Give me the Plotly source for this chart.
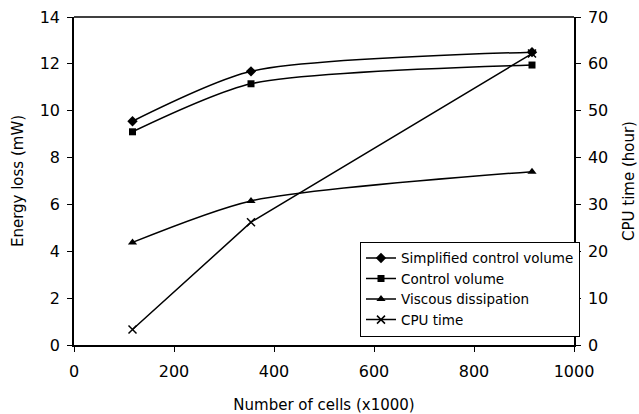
import plotly.graph_objects as go

cells = [117, 354, 916]
simplified_cv = [9.55, 11.68, 12.5]
control_volume = [9.1, 11.15, 11.95]
viscous = [4.38, 6.15, 7.4]
cpu_time = [3.3, 26.2, 62.2]

FAM = "DejaVu Sans, Arial, sans-serif"
tickfont = dict(family=FAM, size=16, color="black")
titlefont = dict(family=FAM, size=15, color="black")

fig = go.Figure()
fig.add_trace(go.Scatter(x=cells, y=simplified_cv, name="Simplified control volume",
                         mode="lines+markers", line=dict(color="black", width=1.5, shape="spline", smoothing=0.7),
                         marker=dict(symbol="diamond", size=8, color="black")))
fig.add_trace(go.Scatter(x=cells, y=control_volume, name="Control volume",
                         mode="lines+markers", line=dict(color="black", width=1.5, shape="spline", smoothing=0.7),
                         marker=dict(symbol="square", size=7, color="black")))
fig.add_trace(go.Scatter(x=cells, y=viscous, name="Viscous dissipation",
                         mode="lines+markers", line=dict(color="black", width=1.5, shape="spline", smoothing=0.7),
                         marker=dict(symbol="triangle-up", size=8, color="black")))
fig.add_trace(go.Scatter(x=cells, y=cpu_time, name="CPU time", yaxis="y2",
                         mode="lines+markers", line=dict(color="black", width=1.5),
                         marker=dict(symbol="x-thin", size=8, color="black", line=dict(color="black", width=1.5))))

fig.update_layout(
    width=639, height=414,
    margin=dict(l=74, r=65, t=17, b=69, autoexpand=False),
    paper_bgcolor="white", plot_bgcolor="white",
    font=tickfont,
    showlegend=True,
    legend=dict(x=0.572, y=0.315, xanchor="left", yanchor="top",
                bgcolor="white", bordercolor="black", borderwidth=1,
                font=dict(family=FAM, size=13.5, color="black"),
                tracegroupgap=0, itemwidth=30),
    xaxis=dict(range=[0, 1000], tickvals=[0, 200, 400, 600, 800, 1000], showgrid=False,
               showline=True, linecolor="black", linewidth=1.5, ticks="outside", ticklen=5,
               tickcolor="black", zeroline=False, mirror=False, tickfont=tickfont, ticklabelstandoff=6,
               title=dict(text="Number of cells (x1000)", font=titlefont, standoff=21)),
    yaxis=dict(range=[0, 14], tickvals=list(range(0, 15, 2)), showgrid=False,
               showline=True, linecolor="black", linewidth=1.5, ticks="outside", ticklen=5,
               tickcolor="black", zeroline=False, tickfont=tickfont, ticklabelstandoff=4,
               title=dict(text="Energy loss (mW)", font=titlefont, standoff=12)),
    yaxis2=dict(range=[0, 70], tickvals=list(range(0, 71, 10)), overlaying="y", side="right",
                showgrid=False, showline=True, linecolor="black", linewidth=1.5, ticks="outside",
                ticklen=5, tickcolor="black", zeroline=False, tickfont=tickfont, ticklabelstandoff=4,
                title=dict(text="CPU time (hour)", font=titlefont, standoff=16)),
)
fig.add_shape(type="line", xref="paper", yref="paper", x0=0, x1=1, y0=1, y1=1,
              line=dict(color="black", width=1.5))

fig.write_html("out.html", config={"displayModeBar": False},
               post_script="document.body.style.margin='0';")
